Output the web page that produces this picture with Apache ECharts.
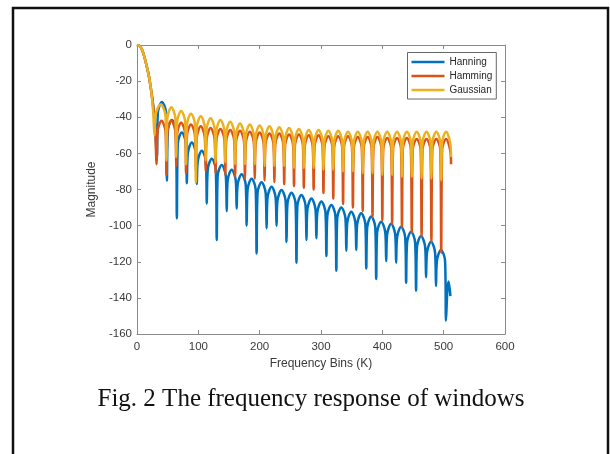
<!DOCTYPE html>
<html>
<head>
<meta charset="utf-8">
<script src="https://cdn.jsdelivr.net/npm/echarts@6/dist/echarts.min.js"></script>
<style>
  html, body { margin: 0; padding: 0; background: #fff; }
  #chart { width: 610px; height: 454px; }
</style>
</head>
<body>
<div id="chart"></div>
<script>
// values: per lobe -> null, rising shoulder, peak, falling shoulder
const seriesNames = ['Hanning', 'Hamming', 'Gaussian']
const xTicks = [0, 100, 200, 300, 400, 500, 600]
const yTicks = [-160, -140, -120, -100, -80, -60, -40, -20, 0]

const hanningX = [
    0, 4, 8, 12, 16, 19, 23, 26.5, 29.5,
    32.5, 34, 40.6, 47.3,
    48.8, 50.3, 56.9, 63.5,
    65, 66.5, 73.1, 79.8,
    81.3, 82.8, 89.4, 96,
    97.5, 99, 105.6, 112.3,
    113.8, 115.3, 121.9, 128.5,
    130, 131.5, 138.1, 144.8,
    146.3, 147.8, 154.4, 161,
    162.5, 164, 170.6, 177.3,
    178.8, 180.3, 186.9, 193.5,
    195, 196.5, 203.1, 209.8,
    211.3, 212.8, 219.4, 226,
    227.5, 229, 235.6, 242.3,
    243.8, 245.3, 251.9, 258.5,
    260, 261.5, 268.1, 274.8,
    276.3, 277.8, 284.4, 291,
    292.5, 294, 300.6, 307.3,
    308.8, 310.3, 316.9, 323.5,
    325, 326.5, 333.1, 339.8,
    341.3, 342.8, 349.4, 356,
    357.5, 359, 365.6, 372.3,
    373.8, 375.3, 381.9, 388.5,
    390, 391.5, 398.1, 404.8,
    406.3, 407.8, 414.4, 421,
    422.5, 424, 430.6, 437.3,
    438.8, 440.3, 446.9, 453.5,
    455, 456.5, 463.1, 469.8,
    471.3, 472.8, 479.4, 486,
    487.5, 489, 495.6, 502.3,
    503.8, 506, 508, 511
]
const hanningY = [
    0, -0.5, -2.5, -6.5, -12, -16.5, -25, -34, -45,
    -62, -37.5, -31.5, -37.5,
    -75, -47.5, -41.5, -47.5,
    -96, -54.5, -48.5, -54.5,
    -76.6, -60, -54, -60,
    -77, -64.5, -58.5, -64.5,
    -87.7, -69, -63, -69,
    -108, -72.5, -66.5, -72.5,
    -92, -75, -69, -75,
    -90.5, -77.5, -71.5, -77.5,
    -100, -80, -74, -80,
    -115.4, -82, -76, -82,
    -101.5, -84.5, -78.5, -84.5,
    -100, -86.3, -80.3, -86.3,
    -109, -87.8, -81.8, -87.8,
    -120.5, -89, -83, -89,
    -108, -91, -85, -91,
    -107, -92.7, -86.7, -92.7,
    -116.8, -94.6, -88.6, -94.6,
    -125, -95.9, -89.9, -95.9,
    -113.9, -98.3, -92.3, -98.3,
    -113.5, -99.2, -93.2, -99.2,
    -123.7, -101, -95, -101,
    -129.6, -103.8, -97.8, -103.8,
    -119.6, -105, -99, -105,
    -120.5, -106.6, -100.6, -106.6,
    -131.6, -109.4, -103.4, -109.4,
    -136, -111.8, -105.8, -111.8,
    -128.6, -114.9, -108.9, -114.9,
    -133.4, -119.5, -113.5, -119.5,
    -152.6, -136, -131, -139
]

const hammingX = [
    0, 4, 8, 12, 16, 19, 23, 26.5, 29.5,
    32, 33.5, 40, 46.5,
    48, 49.5, 56, 62.5,
    64, 65.5, 72, 78.5,
    80, 81.5, 88, 94.5,
    96, 97.5, 104, 110.5,
    112, 113.5, 120, 126.5,
    128, 129.5, 136, 142.5,
    144, 145.5, 152, 158.5,
    160, 161.5, 168, 174.5,
    176, 177.5, 184, 190.5,
    192, 193.5, 200, 206.5,
    208, 209.5, 216, 222.5,
    224, 225.5, 232, 238.5,
    240, 241.5, 248, 254.5,
    256, 257.5, 264, 270.5,
    272, 273.5, 280, 286.5,
    288, 289.5, 296, 302.5,
    304, 305.5, 312, 318.5,
    320, 321.5, 328, 334.5,
    336, 337.5, 344, 350.5,
    352, 353.5, 360, 366.5,
    368, 369.5, 376, 382.5,
    384, 385.5, 392, 398.5,
    400, 401.5, 408, 414.5,
    416, 417.5, 424, 430.5,
    432, 433.5, 440, 446.5,
    448, 449.5, 456, 462.5,
    464, 465.5, 472, 478.5,
    480, 481.5, 488, 494.5,
    496, 497.5, 504, 510.5,
    512
]
const hammingY = [
    0, -0.5, -2.5, -6.5, -12, -16.5, -25, -34, -46,
    -66, -48, -42, -48,
    -72, -48, -42, -48,
    -67, -49, -43, -49,
    -71, -50, -44, -50,
    -70, -51, -45, -51,
    -70, -52, -46, -52,
    -71, -52.5, -46.5, -52.5,
    -72, -53, -47, -53,
    -73, -53.5, -47.5, -53.5,
    -74, -54, -48, -54,
    -74, -54.5, -48.5, -54.5,
    -75, -55, -49, -55,
    -76, -55, -49, -55,
    -77, -55.5, -49.5, -55.5,
    -78, -55.5, -49.5, -55.5,
    -79, -56, -50, -56,
    -80, -56, -50, -56,
    -82, -56.5, -50.5, -56.5,
    -85, -56.5, -50.5, -56.5,
    -88, -56.5, -50.5, -56.5,
    -90, -57, -51, -57,
    -92, -57, -51, -57,
    -95, -57, -51, -57,
    -97, -57.5, -51.5, -57.5,
    -99, -57.5, -51.5, -57.5,
    -101, -57.5, -51.5, -57.5,
    -104, -58, -52, -58,
    -106, -58, -52, -58,
    -109, -58, -52, -58,
    -115, -58, -52, -58,
    -66
]

const gaussianX = [
    0, 4, 8, 12, 16, 19, 23, 26.5,
    28.6, 30.1, 38.5, 46.5,
    48, 49.5, 56, 62.5,
    64, 65.5, 72, 78.5,
    80, 81.5, 88, 94.5,
    96, 97.5, 104, 110.5,
    112, 113.5, 120, 126.5,
    128, 129.5, 136, 142.5,
    144, 145.5, 152, 158.5,
    160, 161.5, 168, 174.5,
    176, 177.5, 184, 190.5,
    192, 193.5, 200, 206.5,
    208, 209.5, 216, 222.5,
    224, 225.5, 232, 238.5,
    240, 241.5, 248, 254.5,
    256, 257.5, 264, 270.5,
    272, 273.5, 280, 286.5,
    288, 289.5, 296, 302.5,
    304, 305.5, 312, 318.5,
    320, 321.5, 328, 334.5,
    336, 337.5, 344, 350.5,
    352, 353.5, 360, 366.5,
    368, 369.5, 376, 382.5,
    384, 385.5, 392, 398.5,
    400, 401.5, 408, 414.5,
    416, 417.5, 424, 430.5,
    432, 433.5, 440, 446.5,
    448, 449.5, 456, 462.5,
    464, 465.5, 472, 478.5,
    480, 481.5, 488, 494.5,
    496, 497.5, 504, 510.5,
    512
]
const gaussianY = [
    0, -0.5, -2.5, -6.5, -12, -16.5, -25, -38,
    -50, -39, -33, -39,
    -64, -40.5, -34.5, -40.5,
    -62, -42.5, -36.5, -42.5,
    -66, -44, -38, -44,
    -76, -45.5, -39.5, -45.5,
    -64, -46.5, -40.5, -46.5,
    -65, -47.5, -41.5, -47.5,
    -65, -48.5, -42.5, -48.5,
    -66, -49.5, -43.5, -49.5,
    -66, -50, -44, -50,
    -66, -50.5, -44.5, -50.5,
    -67, -51, -45, -51,
    -67, -51.5, -45.5, -51.5,
    -67, -52, -46, -52,
    -68, -52.5, -46.5, -52.5,
    -68, -53, -47, -53,
    -68, -53, -47, -53,
    -69, -53.5, -47.5, -53.5,
    -69, -53.5, -47.5, -53.5,
    -70, -54, -48, -54,
    -70, -54, -48, -54,
    -71, -54, -48, -54,
    -71, -54, -48, -54,
    -72, -54, -48, -54,
    -72, -54, -48, -54,
    -73, -54, -48, -54,
    -73, -54, -48, -54,
    -74, -54, -48, -54,
    -74, -54, -48, -54,
    -75, -54, -48, -54,
    -62
]

const colors = ['#0072BD', '#D95319', '#EDB120']

function pairs(xs, ys) {
    return xs.map((x, i) => [x, ys[i]])
}

function addChart(dom, option) {
    let myChart = echarts.init(dom, null, { renderer: 'canvas' })
    myChart.setOption(option)
    return myChart
}

const axisColor = '#8a8a8a'
const labelColor = '#3a3a3a'
const sans = 'Liberation Sans, Arial, sans-serif'

let baseX = {
    type: 'value',
    min: xTicks[0],
    max: xTicks[xTicks.length - 1],
    interval: 100,
    axisLine: { show: true, onZero: false, lineStyle: { color: axisColor, width: 1 } },
    axisTick: { show: true, inside: true, length: 4, lineStyle: { color: axisColor } },
    splitLine: { show: false }
}
let baseY = {
    type: 'value',
    min: yTicks[0],
    max: yTicks[yTicks.length - 1],
    interval: 20,
    axisLine: { show: true, onZero: false, lineStyle: { color: axisColor, width: 1 } },
    axisTick: { show: true, inside: true, length: 4, lineStyle: { color: axisColor } },
    splitLine: { show: false }
}

let option = {
    animation: false,
    backgroundColor: '#fff',
    color: colors,
    grid: { left: 137, right: 105, top: 45, bottom: 120, containLabel: false },
    xAxis: [
        Object.assign({}, baseX, {
            position: 'bottom',
            name: 'Frequency Bins (K)',
            nameLocation: 'middle',
            nameGap: 22,
            nameTextStyle: { color: labelColor, fontSize: 12, fontFamily: sans },
            axisLabel: { color: labelColor, fontSize: 11.5, fontFamily: sans, margin: 7 }
        }),
        Object.assign({}, baseX, { position: 'top', axisLabel: { show: false } })
    ],
    yAxis: [
        Object.assign({}, baseY, {
            position: 'left',
            name: 'Magnitude',
            nameLocation: 'middle',
            nameGap: 32,
            nameRotate: 90,
            nameTextStyle: { color: labelColor, fontSize: 12, fontFamily: sans },
            axisLabel: { color: labelColor, fontSize: 11.5, fontFamily: sans, margin: 5 }
        }),
        Object.assign({}, baseY, { position: 'right', axisLabel: { show: false } })
    ],
    legend: {
        orient: 'vertical',
        left: 407.5,
        top: 52.5,
        data: seriesNames,
        icon: 'rect',
        itemWidth: 33,
        itemHeight: 2.5,
        itemGap: 0,
        padding: [2.5, 4, 2, 4],
        borderColor: '#666',
        borderWidth: 1,
        backgroundColor: '#fff',
        textStyle: { color: '#262626', fontSize: 10, fontFamily: sans, lineHeight: 14 }
    },
    series: [
        { name: seriesNames[0], data: pairs(hanningX, hanningY) },
        { name: seriesNames[1], data: pairs(hammingX, hammingY) },
        { name: seriesNames[2], data: pairs(gaussianX, gaussianY) }
    ].map(s => Object.assign({
        type: 'line',
        symbol: 'none',
        smooth: 0.35,
        clip: true,
        lineStyle: { width: 2.5 }
    }, s)),
    graphic: [
        {
            type: 'rect',
            shape: { x: 13, y: 8, width: 595, height: 460 },
            style: { fill: 'none', stroke: '#111', lineWidth: 2.5 },
            silent: true
        },
        {
            type: 'text',
            x: 311,
            y: 399,
            style: {
                text: 'Fig. 2 The frequency response of windows',
                fill: '#111',
                font: '25px "Liberation Serif", "Times New Roman", serif',
                align: 'center',
                verticalAlign: 'middle'
            }
        }
    ]
}

addChart(document.getElementById('chart'), option)
</script>
</body>
</html>
